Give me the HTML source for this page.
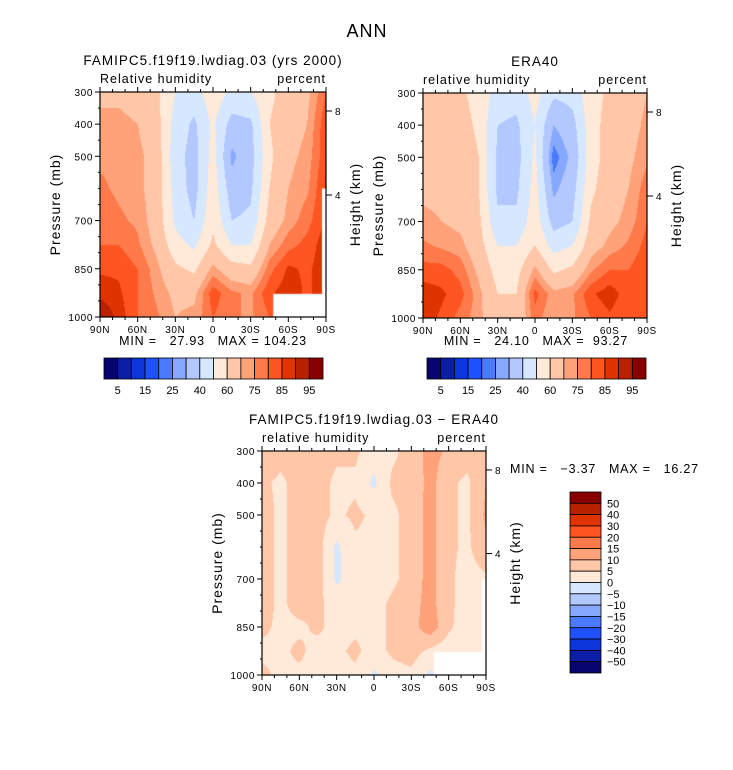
<!DOCTYPE html>
<html><head><meta charset="utf-8">
<style>
body{margin:0;background:#fff;}
#wrap{position:relative;width:733px;height:770px;overflow:hidden;font-family:"Liberation Sans",sans-serif;}
canvas{position:absolute;left:0;top:0;}
svg{position:absolute;left:0;top:0;}
text{white-space:pre;}
</style></head>
<body>
<div id="wrap">
<canvas id="cv" width="733" height="770"></canvas>
<svg id="sv" width="733" height="770"></svg>
</div>
<script>
const lats=["90N","75N","60N","45N","30N","15N","0","15S","30S","45S","60S","75S","90S"];
const levels=[300,400,500,600,700,775,850,925,1000];
const modelRH=[
[68,68,66,62,50,46,56,48,50,58,64,68,80],
[72,72,70,64,46,38,52,36,38,60,66,70,84],
[74,74,72,66,44,36,54,28,36,58,68,72,84],
[76,74,72,66,46,36,56,34,38,60,70,74,86],
[78,76,74,66,48,40,58,40,42,64,72,78,86],
[80,80,76,68,54,48,62,50,50,70,78,82,88],
[84,84,80,72,62,58,72,64,62,78,86,84,88],
[88,86,80,74,68,68,83,76,74,84,88,84,88],
[96,88,80,76,70,72,80,76,74,80,84,84,86]];
const eraRH=[
[62,64,62,56,46,44,54,42,44,56,62,64,70],
[64,66,64,58,40,38,50,30,36,56,64,66,72],
[66,68,66,60,38,36,52,22,32,56,64,68,74],
[68,68,66,60,38,38,54,28,36,58,66,70,78],
[72,70,68,62,42,42,56,36,40,62,68,72,80],
[76,74,72,64,50,50,60,46,50,66,72,76,82],
[82,82,78,68,56,56,72,58,62,74,80,80,84],
[88,86,82,72,60,60,82,72,74,84,88,82,84],
[88,84,78,72,62,62,78,70,74,80,84,80,82]];
const diffRH=[
[8,7,7,7,6,6,2,4,7,12,9,7,10],
[6,4,7,7,4,4,-1,6,6,12,6,4,10],
[7,4,7,7,4,6,4,4,7,12,6,4,11],
[7,4,7,7,-1,4,4,4,7,12,6,4,9],
[7,4,7,7,-1,3,1,4,7,12,6,3,4],
[7,4,7,6,3,4,3,6,8,12,6,3,2],
[6,4,4,6,3,4,3,6,8,13,6,2,2],
[4,4,6,3,4,6,3,6,7,4,2,2,2],
[6,4,4,3,3,4,-1,3,4,-1,2,2,2]];
const rhBounds=[5,10,15,20,25,30,40,50,60,70,75,80,85,90,95];
const rhLabels=["5","15","25","40","60","75","85","95"];
const diffBounds=[-50,-40,-30,-20,-15,-10,-5,0,5,10,15,20,30,40,50];
const diffLabels=["50","40","30","20","15","10","5","0","−5","−10","−15","−20","−30","−40","−50"];
const xTicks=["90N","60N","30N","0","30S","60S","90S"];
const pTicks=[300,400,500,700,850,1000];
const colors=['#06066e','#0a1ea6','#0a36dc','#1e52ff','#4a7aff','#86a8ff','#b2c8ff','#d6e8ff','#ffe9d8','#ffc6a8','#ffa27a','#ff7a4a','#ff5522','#e03400','#b82200','#880000'];

const ctx=document.getElementById('cv').getContext('2d');
const sv=document.getElementById('sv');
const NS='http://www.w3.org/2000/svg';
function mk(tag,attrs,name,txt){const e=document.createElementNS(NS,tag);for(const k in attrs)e.setAttribute(k,attrs[k]);


if(txt!==undefined)e.textContent=txt;sv.appendChild(e);return e;}
function bin(v,b){let i=0;while(i<b.length&&v>=b[i])i++;return i;}
function sample(data,fx,p){
 const lx=fx*(lats.length-1);let i=Math.min(Math.floor(lx),lats.length-2);const tx=lx-i;
 let j=0;while(j<levels.length-2&&p>levels[j+1])j++;const ty=(p-levels[j])/(levels[j+1]-levels[j]);
 const a=data[j][i]*(1-tx)+data[j][i+1]*tx,b=data[j+1][i]*(1-tx)+data[j+1][i+1]*tx;return a*(1-ty)+b*ty;}
const TS='letter-spacing:0.6px';
function panel(P){
 const {x0,y0,w,h,data,bounds}=P;
 const xs=v=>x0+(v)/180*w, ys=p=>y0+(p-300)/700*h;
 for(let py=0;py<h;py++){const p=300+(py+0.5)/h*700;
  for(let px=0;px<w;px++){const v=sample(data,(px+0.5)/w,p);ctx.fillStyle=colors[bin(v,bounds)];ctx.fillRect(x0+px,y0+py,1,1);}}
 if(P.mask){ctx.fillStyle='#fff';ctx.fillRect(xs(138),ys(928),x0+w-xs(138),y0+h-ys(928));
  ctx.fillRect(x0+w-4,ys(P.mask),4,ys(928)-ys(P.mask));}
 mk('rect',{x:x0,y:y0,width:w,height:h,fill:'none',stroke:'#000','stroke-width':1.2},P.name+'-frame');
 for(let d=0;d<=180;d+=10){const x=xs(d),L=d%30==0?5:3;
  mk('line',{x1:x,y1:y0+h,x2:x,y2:y0+h+L,stroke:'#000'},'x-tick');
  mk('line',{x1:x,y1:y0,x2:x,y2:y0-L,stroke:'#000'},'x-tick-top');}
 xTicks.forEach((t,i)=>mk('text',{x:xs(i*30),y:y0+h+16,'font-size':10,'text-anchor':'middle',style:TS},'x-tick-label',t));
 for(let p=300;p<=1000;p+=50){const y=ys(p);const maj=pTicks.includes(p);
  mk('line',{x1:x0-(maj?5:2),y1:y,x2:x0,y2:y,stroke:'#000'},'y-tick');}
 pTicks.forEach(p=>mk('text',{x:x0-7,y:ys(p)+4,'font-size':10,'text-anchor':'end',style:TS},'y-tick-label',p));
 [[8,19],[4,103]].forEach(([k,o])=>{const f=o/225*h;mk('line',{x1:x0+w,y1:y0+f,x2:x0+w+6,y2:y0+f,stroke:'#000'},'height-tick');
  mk('text',{x:x0+w+9,y:y0+f+4,'font-size':10},'height-tick-label',k);});
 mk('text',{x:x0-40,y:y0+h/2,'font-size':14,'text-anchor':'middle',style:'letter-spacing:1px',transform:`rotate(-90 ${x0-40} ${y0+h/2})`},'y-axis-title','Pressure (mb)');
 mk('text',{x:x0+w+34,y:y0+h/2,'font-size':14,'text-anchor':'middle',style:'letter-spacing:1px',transform:`rotate(-90 ${x0+w+34} ${y0+h/2})`},'right-axis-title','Height (km)');
 mk('text',{x:x0+w/2,y:y0-27,'font-size':13.5,'text-anchor':'middle',style:'letter-spacing:1px'},'panel-title',P.title);
 mk('text',{x:x0,y:y0-9,'font-size':12.5,style:'letter-spacing:1px'},'variable-label',P.var);
 mk('text',{x:x0+w,y:y0-9,'font-size':12.5,'text-anchor':'end',style:'letter-spacing:1px'},'units-label','percent');
}
panel({name:'model',x0:100,y0:92,w:226,h:225,data:modelRH,bounds:rhBounds,mask:600,title:'FAMIPC5.f19f19.lwdiag.03 (yrs 2000)',var:'Relative humidity'});
panel({name:'era40',x0:423,y0:93,w:224,h:225,data:eraRH,bounds:rhBounds,title:'ERA40',var:'relative humidity'});
panel({name:'diff',x0:262,y0:451,w:224,h:224,data:diffRH,bounds:diffBounds,mask:700,title:'FAMIPC5.f19f19.lwdiag.03 − ERA40',var:'relative humidity'});
mk('text',{x:367,y:37,'font-size':18,'text-anchor':'middle',style:'letter-spacing:1px'},'main-title','ANN');
mk('text',{x:213,y:345,'font-size':12.5,'text-anchor':'middle',style:'letter-spacing:0.8px'},'min-max-model','MIN =   27.93   MAX = 104.23');
mk('text',{x:536,y:345,'font-size':12.5,'text-anchor':'middle',style:'letter-spacing:0.8px'},'min-max-era40','MIN =   24.10   MAX =  93.27');
mk('text',{x:510,y:473,'font-size':12.5,style:'letter-spacing:0.8px'},'min-max-diff','MIN =   −3.37   MAX =   16.27');
function hbar(x0,y0,w,h,name){const bw=w/16;
 colors.forEach((c,i)=>mk('rect',{x:x0+i*bw,y:y0,width:bw,height:h,fill:c,stroke:'#000','stroke-width':0.8},name+'-box'));
 rhLabels.forEach((t,i)=>mk('text',{x:x0+(2*i+1)*bw,y:y0+h+15,'font-size':11,'text-anchor':'middle'},name+'-label',t));}
hbar(104,358,219,21,'colorbar-model');
hbar(427,358,219,21,'colorbar-era40');
(function(){const x0=570,y0=492,w=31,h=181,bh=h/16;
 colors.slice().reverse().forEach((c,i)=>mk('rect',{x:x0,y:y0+i*bh,width:w,height:bh,fill:c,stroke:'#000','stroke-width':0.8},'colorbar-diff-box'));
 diffLabels.forEach((t,i)=>mk('text',{x:x0+37,y:y0+(i+1)*bh+4,'font-size':11},'colorbar-diff-label',t));})();
</script>
</body></html>
